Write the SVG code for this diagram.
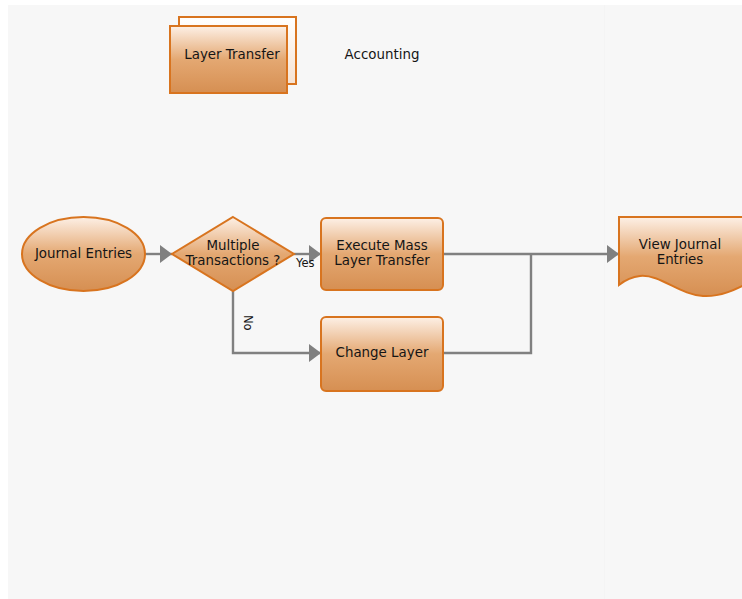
<svg xmlns="http://www.w3.org/2000/svg" width="742" height="599" viewBox="0 0 742 599">
<defs>
<linearGradient id="g" x1="0" y1="0" x2="0" y2="1">
<stop offset="0" stop-color="#fdf0e6"/>
<stop offset="0.5" stop-color="#e4a872"/>
<stop offset="1" stop-color="#d68f52"/>
</linearGradient>
<linearGradient id="g2" x1="0" y1="0" x2="0" y2="1">
<stop offset="0" stop-color="#ffffff"/>
<stop offset="1" stop-color="#f6e2d2"/>
</linearGradient>
<marker id="arr" markerWidth="12" markerHeight="18" refX="12" refY="9" orient="auto" markerUnits="userSpaceOnUse">
<path d="M0,0 L12,9 L0,18 Z" fill="#808080"/>
</marker>
<style>
.shape{fill:url(#g);stroke:#d8741f;stroke-width:2}
.t{font-family:"DejaVu Sans",Verdana,sans-serif;font-size:13.4px;fill:#151515;text-anchor:middle}
.lbl{font-family:"DejaVu Sans",Verdana,sans-serif;font-size:11.5px;fill:#151515}
.c{fill:none;stroke:#808080;stroke-width:2.4}
</style>
</defs>
<rect x="0" y="0" width="742" height="599" fill="#ffffff"/>
<rect x="8" y="5" width="734" height="594" fill="#f7f7f7"/>
<line x1="604.5" y1="5" x2="604.5" y2="599" stroke="#f4f4f4" stroke-width="1"/>

<g id="layer-transfer">
<rect x="179" y="17" width="117" height="67" fill="url(#g2)" stroke="#d8741f" stroke-width="2"/>
<rect x="170" y="26" width="117" height="67" class="shape"/>
<text class="t" x="232" y="59">Layer Transfer</text>
</g>
<g id="accounting">
<text class="t" x="382" y="59">Accounting</text>
</g>

<g id="connectors">
<line class="c" x1="145" y1="254" x2="172" y2="254" marker-end="url(#arr)"/>
<line class="c" x1="294" y1="254" x2="321" y2="254" marker-end="url(#arr)"/>
<polyline class="c" points="233,291 233,353 321,353" marker-end="url(#arr)"/>
<line class="c" x1="443" y1="254" x2="619" y2="254" marker-end="url(#arr)"/>
<polyline class="c" points="443,353 531,353 531,254"/>
<text class="lbl" x="296" y="267">Yes</text>
<text class="lbl" transform="translate(244,315) rotate(90)">No</text>
</g>

<g id="journal-entries">
<ellipse cx="83.5" cy="254" rx="61.5" ry="37" class="shape"/>
<text class="t" x="83.5" y="258">Journal Entries</text>
</g>
<g id="multiple-transactions">
<polygon points="233,217 294,254 233,291 172,254" class="shape"/>
<text class="t" x="233" y="250">Multiple</text>
<text class="t" x="233" y="265">Transactions ?</text>
</g>
<g id="execute-mass">
<rect x="321" y="218" width="122" height="72" rx="5" class="shape"/>
<text class="t" x="382" y="250">Execute Mass</text>
<text class="t" x="382" y="265">Layer Transfer</text>
</g>
<g id="change-layer">
<rect x="321" y="317" width="122" height="74" rx="5" class="shape"/>
<text class="t" x="382" y="357">Change Layer</text>
</g>
<g id="view-journal">
<path d="M619,217 L750,217 L750,282 C735,290 720,297 703,296 C680,295 660,274 640,276 C630,277 624,281 619,285 Z" class="shape"/>
<text class="t" x="680" y="249">View Journal</text>
<text class="t" x="680" y="264">Entries</text>
</g>
</svg>
